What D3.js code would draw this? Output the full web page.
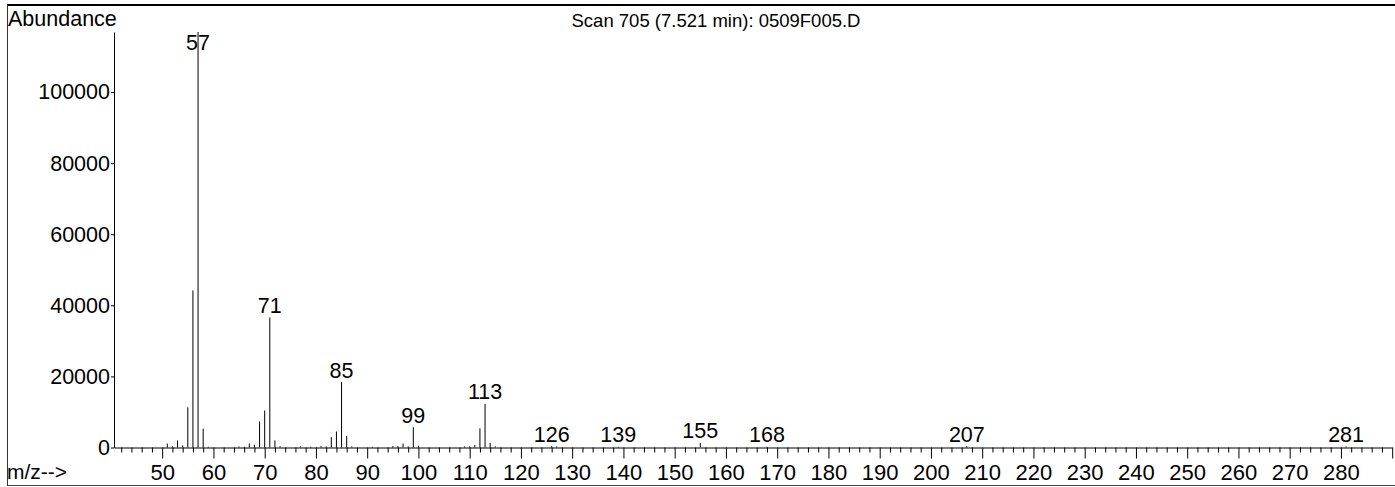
<!DOCTYPE html>
<html>
<head>
<meta charset="utf-8">
<script src="https://cdn.jsdelivr.net/npm/d3@7"></script>
<style>
  body { margin: 0; background: #fff; }
  svg { display: block; font-family: "Liberation Sans", Arial, sans-serif; }
</style>
</head>
<body>
<div id="chart"></div>
<script>
// peaks of the scan, m/z and abundance
var mz = [51, 52, 53, 54, 55, 56, 57, 58, 59, 65, 66, 67, 68, 69, 70, 71, 72, 73,
  77, 79, 81, 82, 83, 84, 85, 86, 87, 91, 95, 96, 97, 98, 99, 100,
  109, 110, 111, 112, 113, 114, 115, 126, 127, 139, 155, 168, 207, 281];
var abundance = [1100, 300, 2000, 600, 11300, 44200, 116900, 5300, 200, 300, 200, 1100, 800, 7300, 10400, 36600, 2000, 400,
  300, 200, 400, 300, 2900, 4500, 18400, 3200, 300, 200, 400, 400, 1100, 300, 5700, 500,
  300, 300, 700, 5400, 12300, 1300, 300, 400, 300, 200, 1300, 200, 400, 300];
var labeledPeaks = [57, 71, 85, 99, 113, 126, 139, 155, 168, 207, 281];
var yTicks = [0, 20000, 40000, 60000, 80000, 100000];
var xMajorTicks = [50, 60, 70, 80, 90, 100, 110, 120, 130, 140, 150, 160, 170, 180, 190,
  200, 210, 220, 230, 240, 250, 260, 270, 280, 290];
var xLabelTicks = xMajorTicks.filter(function (d) { return d <= 280; });
var xMinorTicks = d3.range(42, 290, 2).filter(function (d) { return d % 10 !== 0; });
var title = "Scan 705 (7.521 min): 0509F005.D";

var width = 1395, height = 487;
var svg = d3.select("#chart").append("svg")
  .attr("width", width)
  .attr("height", height);

var x = d3.scaleLinear().domain([40.6, 290]).range([114, 1392.2]);
var y = d3.scaleLinear().domain([0, 116900]).range([447.5, 32]);

// frame
svg.append("line").attr("x1", 7).attr("x2", width).attr("y1", 5).attr("y2", 5)
  .attr("stroke", "#000").attr("stroke-width", 2);
svg.append("line").attr("x1", 7.5).attr("x2", 7.5).attr("y1", 5).attr("y2", 485)
  .attr("stroke", "#333").attr("stroke-width", 1);
svg.append("line").attr("x1", 7).attr("x2", width).attr("y1", 485.5).attr("y2", 485.5)
  .attr("stroke", "#444").attr("stroke-width", 1);

// x axis: minor ticks, then major ticks with labels
svg.append("g")
  .attr("transform", "translate(0," + y(0) + ")")
  .call(d3.axisBottom(x).tickValues(xMinorTicks).tickSize(5).tickSizeOuter(0).tickFormat(""))
  .call(function (g) { g.select(".domain").attr("stroke", "#000"); });

var xAxis = svg.append("g")
  .attr("transform", "translate(0," + y(0) + ")")
  .call(d3.axisBottom(x).tickValues(xMajorTicks).tickSize(11).tickSizeOuter(0).tickPadding(5.5)
    .tickFormat(function (d) { return xLabelTicks.indexOf(d) >= 0 ? d : ""; }));
xAxis.select(".domain").remove();
xAxis.selectAll("text")
  .attr("fill", "#000")
  .style("font-size", "22px")
  .style("font-family", "'Liberation Sans', Arial, sans-serif");

// y axis
var yAxis = svg.append("g")
  .attr("transform", "translate(" + x.range()[0] + ",0)")
  .call(d3.axisLeft(y).tickValues(yTicks).tickSize(3).tickSizeOuter(0).tickPadding(1)
    .tickFormat(d3.format("d")));
yAxis.selectAll("text")
  .attr("fill", "#000")
  .style("font-size", "21.5px")
  .style("font-family", "'Liberation Sans', Arial, sans-serif");

// peaks
var peaks = mz.map(function (d, i) { return { mz: d, value: abundance[i] }; });
svg.selectAll(".peak")
  .data(peaks)
  .enter()
  .append("line")
  .attr("class", "peak")
  .attr("x1", function (d) { return x(d.mz); })
  .attr("x2", function (d) { return x(d.mz); })
  .attr("y1", y(0))
  .attr("y2", function (d) { return y(d.value); })
  .attr("stroke", "#000")
  .attr("stroke-width", 1);

// peak labels
svg.selectAll(".peak-label")
  .data(peaks.filter(function (d) { return labeledPeaks.indexOf(d.mz) >= 0; }))
  .enter()
  .append("text")
  .attr("class", "peak-label")
  .attr("x", function (d) { return x(d.mz); })
  .attr("y", function (d) { return Math.max(y(d.value) - 4.5, 50); })
  .attr("text-anchor", "middle")
  .style("font-size", "21.5px")
  .text(function (d) { return d.mz; });

// texts
svg.append("text").attr("x", 8).attr("y", 26).style("font-size", "21.5px").text("Abundance");
svg.append("text").attr("x", 716).attr("y", 26.5).attr("text-anchor", "middle")
  .style("font-size", "18.5px").text(title);
svg.append("text").attr("x", 7).attr("y", 479).style("font-size", "21px").text("m/z-->");
</script>
</body>
</html>
